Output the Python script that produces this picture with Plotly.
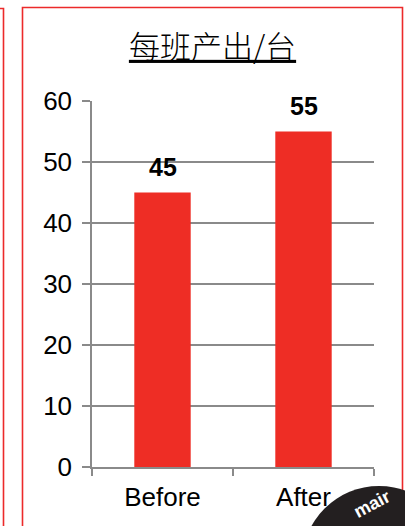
import plotly.graph_objects as go

categories = ["Before", "After"]
values = [45, 55]
y_ticks = [0, 10, 20, 30, 40, 50, 60]
title_text = "每班产出/台"

W, H = 405, 526
L, R, T, B = 92, 31, 101, 59
pw, ph = W - L - R, H - T - B

def px_x(x):
    return (x - L) / pw

def px_y(y):
    return (H - B - y) / ph

GRAY = "#8a8a8a"
RED_BAR = "#ee2d25"
RED_LINE = "#ec2a2a"
FONT = "Liberation Sans, Arial, sans-serif"

fig = go.Figure()
fig.add_trace(go.Bar(
    x=categories, y=values,
    marker=dict(color=RED_BAR, line=dict(width=0)),
    hoverinfo="skip",
))

for c, v in zip(categories, values):
    fig.add_annotation(
        x=c, y=v, xref="x", yref="y", text="<b>%d</b>" % v,
        showarrow=False, yanchor="bottom", yshift=10,
        font=dict(family=FONT, size=25, color="#000000"),
    )

# frames
fig.add_shape(type="rect", xref="paper", yref="paper",
              x0=px_x(22.5), x1=px_x(402.5), y0=px_y(560), y1=px_y(7.5),
              line=dict(color=RED_LINE, width=1.6), fillcolor="rgba(0,0,0,0)", layer="below")
fig.add_shape(type="rect", xref="paper", yref="paper",
              x0=px_x(-100), x1=px_x(3.5), y0=px_y(560), y1=px_y(8.5),
              line=dict(color=RED_LINE, width=1.6), fillcolor="rgba(0,0,0,0)", layer="below")

# watermark fragment
cx, cy, r = 379, 563, 77
fig.add_shape(type="circle", xref="paper", yref="paper",
              x0=px_x(cx - r), x1=px_x(cx + r), y0=px_y(cy + r), y1=px_y(cy - r),
              line=dict(width=0), fillcolor="#231f20", layer="above")
fig.add_annotation(xref="paper", yref="paper", x=px_x(372), y=px_y(504),
                   xanchor="center", yanchor="middle",
                   text="<b>mair</b>", showarrow=False, textangle=-28,
                   font=dict(family=FONT, size=18, color="#ffffff"))

fig.update_layout(
    width=W, height=H,
    margin=dict(l=L, r=R, t=T, b=B, pad=0),
    paper_bgcolor="white", plot_bgcolor="white",
    showlegend=False,
    bargap=0.6,
    title=dict(
        text="<u>" + title_text + "</u>",
        x=px_x(212.5), xref="paper", xanchor="center",
        y=1 - 47 / H, yref="container", yanchor="middle",
        font=dict(family="Noto Sans CJK SC", size=31, color="#000000", weight=300),
    ),
    font=dict(family=FONT, color="#000000"),
)

fig.update_yaxes(
    range=[0, 60], tickvals=y_ticks, ticktext=[str(t) for t in y_ticks],
    showgrid=True, gridcolor=GRAY, gridwidth=1.5,
    showline=True, linecolor=GRAY, linewidth=1.5,
    ticks="outside", ticklen=8, tickcolor=GRAY, tickwidth=1.5,
    zeroline=False, ticklabelstandoff=5,
    tickfont=dict(family=FONT, size=26, color="#000000"),
)
fig.update_xaxes(
    showline=True, linecolor=GRAY, linewidth=1.5,
    ticks="outside", ticklen=7, tickcolor=GRAY, tickwidth=1.5,
    tickson="boundaries", showgrid=False, ticklabelstandoff=6,
    tickfont=dict(family=FONT, size=26, color="#000000"),
)

fig.write_html("out.html")
